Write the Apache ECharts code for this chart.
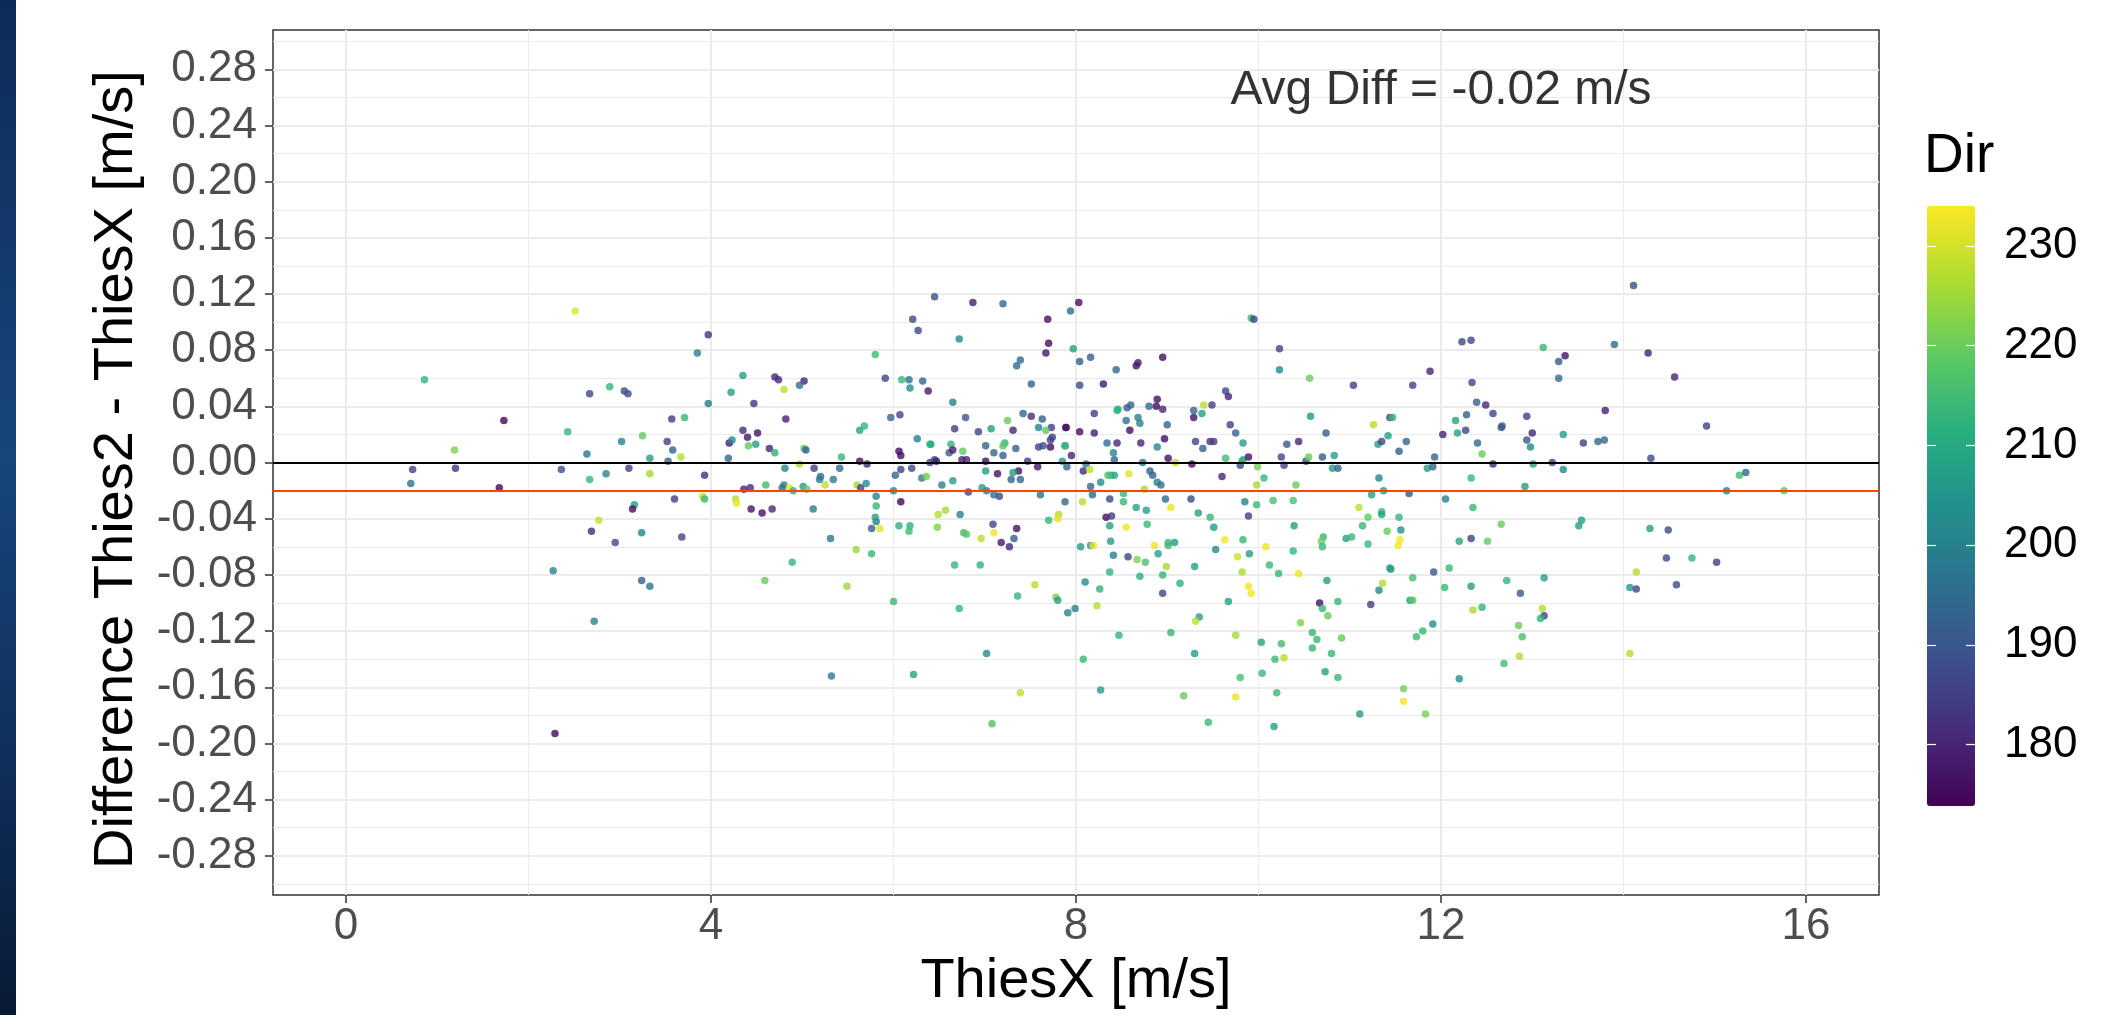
<!DOCTYPE html>
<html>
<head>
<meta charset="utf-8">
<script src="https://cdn.jsdelivr.net/npm/echarts@6/dist/echarts.min.js"></script>
<style>
  html, body { margin: 0; padding: 0; background: #fff; }
  #chart { width: 2105px; height: 1015px; }
</style>
</head>
<body>
<div id="chart"></div>
<script>
// [ThiesX, Thies2 - ThiesX, Dir]
const obs = [
  [0.86,0.059,213],[2.51,0.108,231],[2.67,0.049,186],[2.89,0.054,213],[3.05,0.051,188],[3.09,0.049,188],
  [1.73,0.030,175],[2.43,0.022,214],[3.02,0.015,201],[3.25,0.019,219],[1.19,0.009,222],[2.64,0.006,197],
  [3.33,0.003,207],[0.73,-0.005,186],[1.20,-0.004,183],[2.36,-0.005,188],[3.10,-0.004,185],[2.67,-0.012,214],
  [2.85,-0.008,200],[3.33,-0.008,226],[0.71,-0.015,196],[1.68,-0.018,175],
  [3.16,-0.030,207],[3.14,-0.033,176],[2.77,-0.041,228],[2.69,-0.049,181],[2.95,-0.057,187],[3.24,-0.050,201],
  [2.27,-0.077,201],[3.24,-0.084,192],[3.33,-0.088,197],[2.72,-0.113,201],[2.29,-0.193,175],
  [3.97,0.091,183],[3.85,0.078,200],[4.35,0.062,207],[4.70,0.061,180],[4.74,0.059,181],[5.02,0.058,180],
  [4.97,0.055,196],[4.80,0.052,228],[4.22,0.050,207],[3.97,0.042,199],[4.47,0.042,183],[3.57,0.031,185],
  [3.71,0.032,214],[4.82,0.031,179],[3.52,0.015,185],[3.58,0.009,193],[3.53,0.001,193],[3.67,0.004,227],
  [3.93,-0.009,183],[4.35,0.023,181],[4.51,0.021,177],[4.40,0.018,178],[4.20,0.014,178],[4.23,0.016,202],
  [4.41,0.012,219],[4.49,0.013,207],[4.64,0.010,180],[4.70,0.007,212],[4.19,0.003,194],[5.02,0.010,219],
  [5.04,0.009,192],[5.43,0.004,214],[5.41,-0.004,195],[4.81,-0.004,201],[4.97,-0.001,226],[5.13,-0.004,185],
  [5.20,-0.010,194],[5.19,-0.012,199],[5.34,-0.012,199],[5.25,-0.016,228],[4.60,-0.016,215],[4.80,-0.016,201],
  [4.78,-0.018,197],[4.86,-0.018,232],[4.90,-0.020,213],[5.01,-0.017,207],[5.05,-0.019,219],[4.36,-0.019,180],
  [4.43,-0.018,181],[3.91,-0.024,229],[5.60,-0.016,226],[5.64,-0.018,186],[5.70,-0.015,202],[5.63,0.001,177],
  [5.71,-0.001,180],[5.80,0.077,215],[5.63,0.023,208],[5.68,0.026,213],[5.91,0.060,186],[6.09,0.059,214],
  [6.17,0.059,197],[6.18,0.053,204],[6.32,0.058,193],[6.38,0.051,178],[6.21,0.102,187],[6.27,0.094,187],
  [6.45,0.118,188],[6.87,0.114,179],[7.20,0.113,194],[7.69,0.102,176],[7.70,0.085,176],[7.67,0.078,178],
  [6.72,0.088,203],[7.35,0.069,195],[7.39,0.073,195],[7.51,0.056,193],[6.65,0.043,200],[6.79,0.032,190],
  [5.97,0.032,193],[6.07,0.034,186],[7.25,0.030,220],[7.42,0.035,193],[7.51,0.033,182],[7.63,0.031,192],
  [7.73,0.025,185],[7.89,0.025,176],[7.67,0.023,219],[7.59,0.025,200],[7.74,0.018,185],[7.72,0.016,185],
  [7.59,0.011,186],[7.64,0.012,188],[7.72,0.011,176],[7.88,0.012,207],[7.31,0.023,180],[7.07,0.024,207],
  [6.93,0.022,185],[6.67,0.024,185],[6.26,0.017,199],[6.40,0.013,212],[6.41,0.013,211],[6.63,0.013,213],
  [6.61,0.007,192],[6.65,0.009,179],[6.76,0.008,219],[7.01,0.012,192],[7.10,0.007,193],[7.22,0.014,213],
  [7.20,0.012,218],[7.20,0.005,192],[7.34,0.010,193],[6.06,0.008,176],[6.08,0.005,176],[6.40,0.000,186],
  [6.45,0.002,186],[6.47,0.001,178],[6.75,0.002,180],[6.80,0.002,180],[7.01,0.001,176],[7.47,0.001,185],
  [7.85,0.001,206],[7.90,-0.003,194],[7.58,-0.003,177],[7.14,-0.008,177],[7.37,-0.006,177],[7.01,-0.006,207],
  [7.31,-0.007,207],[7.29,-0.012,193],[7.39,-0.012,193],[6.20,-0.004,187],[6.08,-0.005,186],[6.02,-0.009,194],
  [6.31,-0.011,199],[6.36,-0.010,221],[6.53,-0.016,200],[6.65,-0.013,207],[6.00,-0.020,202],[6.82,-0.021,186],
  [6.97,-0.018,207],[7.02,-0.020,200],[7.10,-0.023,196],[7.16,-0.024,187],[7.61,-0.023,196],[5.81,-0.024,200],
  [3.60,-0.026,185],[3.93,-0.026,214],[4.27,-0.026,227],[4.28,-0.029,232],[4.44,-0.033,177],[4.56,-0.036,176],
  [4.67,-0.033,180],[5.12,-0.033,199],[3.68,-0.053,186],[4.59,-0.084,220],[4.89,-0.071,213],[5.31,-0.054,198],
  [5.32,-0.152,198],[5.49,-0.088,225],[5.59,-0.062,225],[5.76,-0.065,214],[5.76,-0.047,192],[5.81,-0.042,199],
  [5.80,-0.039,208],[5.81,-0.031,214],[5.85,-0.047,232],[6.08,-0.028,175],[6.06,-0.045,212],[6.18,-0.045,212],
  [6.17,-0.049,215],[6.00,-0.099,214],[6.22,-0.151,208],[6.49,-0.037,227],[6.57,-0.034,226],[6.48,-0.046,222],
  [6.73,-0.037,200],[6.77,-0.050,215],[6.80,-0.051,218],[6.96,-0.054,228],[6.67,-0.073,213],[6.95,-0.073,213],
  [6.72,-0.104,213],[7.02,-0.136,202],[7.08,-0.186,217],[7.39,-0.164,228],[7.09,-0.044,187],[7.10,-0.050,233],
  [7.18,-0.057,178],[7.27,-0.060,180],[7.32,-0.054,192],[7.35,-0.047,176],[7.88,-0.028,194],[7.70,-0.041,214],
  [7.81,-0.037,227],[7.80,-0.040,232],[7.36,-0.095,213],[7.55,-0.087,227],[7.78,-0.096,222],[7.80,-0.098,207],
  [7.91,-0.107,200],
  [7.94,0.108,196],[8.03,0.114,176],[7.97,0.081,207],[8.04,0.072,191],[8.16,0.075,192],[8.04,0.055,187],
  [8.30,0.056,178],[8.44,0.066,194],[8.66,0.069,177],[8.68,0.071,178],[8.95,0.075,176],[7.89,0.025,177],
  [7.88,0.012,214],[7.95,0.005,180],[8.04,0.022,176],[8.20,0.035,184],[8.20,0.021,179],[8.11,-0.001,196],
  [8.08,-0.006,181],[8.15,-0.005,228],[8.34,0.014,196],[8.45,0.014,180],[8.41,0.007,201],[8.42,0.002,193],
  [8.45,0.037,214],[8.46,0.038,212],[8.56,0.039,192],[8.60,0.041,193],[8.55,0.030,196],[8.68,0.032,200],
  [8.70,0.028,200],[8.59,0.023,176],[8.71,0.014,180],[8.73,0.000,196],[8.80,0.040,195],[8.88,0.040,176],
  [8.89,0.045,176],[8.95,0.038,180],[9.00,0.027,193],[8.97,0.017,176],[8.89,0.011,202],[9.01,0.003,176],
  [9.09,0.000,228],[8.81,-0.006,192],[8.84,-0.009,192],[8.89,-0.014,200],[8.93,-0.016,196],[8.38,-0.009,214],
  [8.42,-0.009,209],[8.35,-0.009,217],[8.58,-0.008,231],[8.27,-0.014,203],[8.16,-0.017,193],[8.18,-0.023,194],
  [8.52,-0.022,214],[8.75,-0.019,226],[9.27,-0.001,176],[9.29,0.032,177],[9.29,0.037,193],[9.38,0.035,208],
  [9.40,0.041,228],[9.49,0.041,185],[9.31,0.015,186],[9.47,0.015,182],[9.51,0.015,185],[9.39,0.010,193],
  [9.64,0.051,186],[9.67,0.047,180],[9.69,0.027,186],[9.75,0.021,193],[9.83,0.014,207],[9.60,-0.010,180],
  [9.64,0.003,215],[9.80,-0.002,186],[9.82,0.001,207],[9.83,0.002,212],[9.89,0.004,177],[9.92,0.103,214],
  [9.95,0.102,186],[9.99,-0.003,221],[10.06,-0.011,214],[9.98,-0.016,226],[10.41,-0.016,220],[10.23,0.081,186],
  [10.23,0.066,202],[10.56,0.060,220],[10.57,0.033,206],[10.25,0.004,187],[10.28,-0.002,186],[10.31,0.013,190],
  [10.44,0.015,180],[10.52,0.001,187],[10.55,0.004,220],[10.70,0.004,192],[10.74,0.021,192],[10.83,0.005,207],
  [10.81,-0.004,207],[10.87,-0.004,193],[11.04,0.055,186],[11.26,0.027,227],[11.31,0.013,207],[11.35,0.015,186],
  [11.42,0.019,207],[11.44,0.032,186],[11.47,0.032,214],[11.54,0.008,192],[11.62,0.015,193],[11.69,0.055,186],
  [11.88,0.065,180],[11.93,0.004,194],[11.85,-0.004,207],[11.91,-0.003,193],[12.02,0.020,180],[12.16,0.030,208],
  [12.18,0.021,208],[12.28,0.034,192],[12.27,0.023,186],[12.23,0.086,187],[12.33,0.087,187],[12.34,0.057,187],
  [12.39,0.043,192],[12.40,0.014,194],[12.33,-0.011,214],[11.32,-0.011,200],[11.37,-0.020,207],[11.24,-0.023,207],
  [11.65,-0.022,190],
  [8.07,-0.028,227],[8.37,-0.026,186],[8.52,-0.028,214],[8.66,-0.032,208],[8.77,-0.034,208],[8.98,-0.026,194],
  [9.04,-0.032,232],[9.26,-0.026,187],[8.33,-0.039,176],[8.39,-0.038,185],[8.37,-0.045,208],[8.55,-0.046,233],
  [8.78,-0.044,214],[8.05,-0.060,207],[8.16,-0.059,207],[8.19,-0.059,232],[8.38,-0.056,207],[8.41,-0.066,200],
  [8.57,-0.067,186],[8.67,-0.069,222],[8.76,-0.071,216],[8.37,-0.078,213],[8.70,-0.081,212],[8.86,-0.059,232],
  [8.90,-0.065,207],[8.99,-0.074,226],[8.95,-0.080,213],[9.01,-0.057,215],[9.01,-0.059,215],[9.08,-0.057,207],
  [8.95,-0.093,187],[9.14,-0.086,212],[9.30,-0.074,207],[9.34,-0.036,207],[9.47,-0.039,214],[9.51,-0.046,206],
  [9.53,-0.062,202],[9.63,-0.055,233],[9.83,-0.055,214],[9.85,-0.028,200],[9.89,-0.038,186],[9.98,-0.030,214],
  [10.16,-0.027,216],[10.38,-0.027,216],[9.77,-0.067,229],[9.90,-0.065,207],[9.82,-0.078,226],[9.89,-0.088,233],
  [9.92,-0.093,233],[9.67,-0.099,207],[10.08,-0.060,233],[10.12,-0.073,214],[10.22,-0.079,213],[10.39,-0.045,207],
  [10.38,-0.063,213],[10.44,-0.079,232],[10.03,-0.128,207],[10.25,-0.129,215],[10.18,-0.140,214],[10.28,-0.139,227],
  [10.04,-0.150,214],[10.20,-0.164,214],[10.17,-0.188,207],[9.75,-0.123,226],[9.80,-0.153,216],[9.75,-0.167,232],
  [9.45,-0.185,214],[9.18,-0.166,220],[9.30,-0.136,207],[9.35,-0.110,207],[9.31,-0.113,228],[9.04,-0.121,214],
  [8.47,-0.123,213],[8.08,-0.140,214],[8.27,-0.162,207],[8.23,-0.102,227],[8.10,-0.085,203],[8.26,-0.090,213],
  [7.99,-0.104,200],[11.10,-0.032,228],[11.20,-0.039,219],[11.35,-0.035,214],[11.35,-0.037,208],[11.54,-0.039,213],
  [11.14,-0.045,214],[11.41,-0.049,220],[11.56,-0.048,204],[11.20,-0.058,214],[10.96,-0.054,208],[11.02,-0.053,214],
  [10.71,-0.053,214],[10.69,-0.056,220],[10.70,-0.060,214],[11.55,-0.055,233],[11.53,-0.059,233],[12.05,-0.026,200],
  [12.35,-0.032,214],[12.20,-0.056,208],[12.33,-0.054,186],[11.44,-0.075,207],[11.45,-0.076,207],[11.92,-0.078,190],
  [12.09,-0.075,214],[11.69,-0.082,215],[11.36,-0.086,227],[11.32,-0.091,202],[10.75,-0.084,207],[10.87,-0.099,214],
  [10.67,-0.100,177],[10.70,-0.104,214],[10.76,-0.109,220],[11.23,-0.101,186],[11.66,-0.098,207],[11.69,-0.098,218],
  [12.04,-0.089,214],[12.33,-0.088,207],[12.35,-0.105,226],[10.46,-0.114,222],[10.59,-0.121,214],[10.64,-0.126,214],
  [10.59,-0.132,214],[10.80,-0.136,214],[10.91,-0.125,220],[10.73,-0.149,207],[10.87,-0.153,214],[11.11,-0.179,207],
  [11.59,-0.161,221],[11.59,-0.170,233],[11.83,-0.179,221],[11.73,-0.124,214],[11.80,-0.120,214],[11.91,-0.115,203],
  [12.20,-0.154,204],
  [14.11,0.126,188],[13.90,0.084,195],[14.27,0.078,179],[14.56,0.061,180],[13.12,0.082,214],[13.36,0.076,177],
  [13.29,0.072,191],[13.29,0.060,195],[12.49,0.041,181],[12.57,0.035,187],[12.66,0.025,190],[12.67,0.026,190],
  [12.94,0.033,185],[13.00,0.021,180],[12.94,0.016,190],[12.98,0.011,202],[12.45,0.006,220],[12.57,-0.001,180],
  [13.01,-0.001,207],[13.22,0.000,186],[13.34,-0.005,203],[13.34,0.020,207],[13.56,0.014,185],[13.72,0.015,194],
  [13.79,0.016,194],[13.80,0.037,179],[14.30,0.003,187],[14.91,0.026,186],[12.92,-0.017,207],[15.27,-0.009,215],
  [15.34,-0.007,194],[15.13,-0.020,200],[15.76,-0.020,219],
  [12.66,-0.044,220],[12.51,-0.056,219],[13.54,-0.041,207],[13.51,-0.045,207],[14.29,-0.047,208],[14.49,-0.048,187],
  [14.47,-0.068,187],[14.75,-0.068,213],[15.02,-0.071,185],[14.14,-0.078,227],[14.07,-0.089,207],[14.14,-0.090,187],
  [14.58,-0.087,187],[12.72,-0.084,213],[13.13,-0.082,207],[12.87,-0.093,190],[12.45,-0.103,213],[13.11,-0.104,227],
  [13.13,-0.109,186],[13.09,-0.111,213],[12.85,-0.116,220],[12.89,-0.124,216],[12.86,-0.138,227],[12.69,-0.143,215],
  [14.07,-0.136,227]
];

const avgDiff = -0.02;
const xTicks = [0, 4, 8, 12, 16];
const xMinor = [2, 6, 10, 14];
const yTicks = [-0.28, -0.24, -0.20, -0.16, -0.12, -0.08, -0.04, 0, 0.04, 0.08, 0.12, 0.16, 0.20, 0.24, 0.28];
const yMinor = [-0.30, -0.26, -0.22, -0.18, -0.14, -0.10, -0.06, -0.02, 0.02, 0.06, 0.10, 0.14, 0.18, 0.22, 0.26, 0.30];
const dirTicks = [180, 190, 200, 210, 220, 230];
const dirRange = [173.85, 234.0];
const viridis = ['#440154', '#472D7B', '#3B528B', '#2C728E', '#21918C', '#28AE80', '#5EC962', '#ADDC30', '#FDE725'];

const FONT = "'Liberation Sans', Arial, sans-serif";
const chart = echarts.init(document.getElementById('chart'), null, { renderer: 'canvas' });

const hidden = { show: false };
const noLine = { show: false, onZero: false };

const option = {
  backgroundColor: '#ffffff',
  animation: false,
  textStyle: { fontFamily: FONT },
  title: {
    text: 'Dir',
    left: 1924,
    top: 129,
    padding: 0,
    textStyle: { fontSize: 55, fontWeight: 'normal', color: '#000', fontFamily: FONT }
  },
  graphic: [
    {
      type: 'rect',
      shape: { x: 0, y: 0, width: 16, height: 1015 },
      style: {
        fill: new echarts.graphic.LinearGradient(0, 0, 0, 1, [
          { offset: 0, color: '#0d2b57' },
          { offset: 0.45, color: '#17467c' },
          { offset: 0.75, color: '#0f2f5a' },
          { offset: 1, color: '#081a35' }
        ])
      },
      silent: true
    }
  ],
  grid: [
    { left: 273, top: 30, width: 1606, height: 869, show: true, backgroundColor: '#fff',
      borderColor: '#333333', borderWidth: 1.5 },
    { left: 1927, top: 206, width: 48, height: 600, show: false }
  ],
  xAxis: [
    {
      type: 'value', gridIndex: 0, min: -0.8, max: 16.8, position: 'bottom',
      name: 'ThiesX [m/s]', nameLocation: 'middle', nameGap: 57,
      nameTextStyle: { fontSize: 56, color: '#000', fontFamily: FONT },
      axisLine: noLine,
      axisTick: { show: true, length: 8, customValues: xTicks, lineStyle: { color: '#333', width: 1.5 } },
      axisLabel: { customValues: xTicks, fontSize: 44, color: '#4D4D4D', margin: 10, fontFamily: FONT },
      splitLine: { show: true, lineStyle: { color: '#EBEBEB', width: 2 } }
    },
    {
      type: 'value', gridIndex: 0, min: -0.8, max: 16.8, position: 'top',
      axisLine: noLine,
      axisTick: { show: false, customValues: xMinor },
      axisLabel: { show: false, customValues: xMinor },
      splitLine: { show: true, lineStyle: { color: '#EBEBEB', width: 1 } }
    },
    { type: 'value', gridIndex: 1, min: 0, max: 1, show: false }
  ],
  yAxis: [
    {
      type: 'value', gridIndex: 0, min: -0.308, max: 0.308, position: 'left',
      name: 'Difference Thies2 - ThiesX [m/s]', nameLocation: 'middle', nameRotate: 90, nameGap: 128,
      nameTextStyle: { fontSize: 56, color: '#000', fontFamily: FONT, padding: [0, 14, 0, 0] },
      axisLine: noLine,
      axisTick: { show: true, length: 8, customValues: yTicks, lineStyle: { color: '#333', width: 1.5 } },
      axisLabel: {
        customValues: yTicks, fontSize: 44, color: '#4D4D4D', margin: 16, fontFamily: FONT,
        formatter: (v) => v.toFixed(2)
      },
      splitLine: { show: true, lineStyle: { color: '#EBEBEB', width: 2 } }
    },
    {
      type: 'value', gridIndex: 0, min: -0.308, max: 0.308, position: 'right',
      axisLine: noLine,
      axisTick: { show: false, customValues: yMinor },
      axisLabel: { show: false, customValues: yMinor },
      splitLine: { show: true, lineStyle: { color: '#EBEBEB', width: 1 } }
    },
    {
      // colour bar labels
      type: 'value', gridIndex: 1, min: dirRange[0], max: dirRange[1], position: 'right', z: 10,
      axisLine: noLine,
      axisTick: { show: true, inside: true, length: 9, customValues: dirTicks, lineStyle: { color: '#fff', width: 1.2 } },
      axisLabel: { customValues: dirTicks, fontSize: 44, color: '#000', margin: 29, fontFamily: FONT },
      splitLine: hidden
    },
    {
      type: 'value', gridIndex: 1, min: dirRange[0], max: dirRange[1], position: 'left', z: 10,
      axisLine: noLine,
      axisTick: { show: true, inside: true, length: 9, customValues: dirTicks, lineStyle: { color: '#fff', width: 1.2 } },
      axisLabel: { show: false, customValues: dirTicks },
      splitLine: hidden
    }
  ],
  visualMap: {
    type: 'continuous',
    min: dirRange[0],
    max: dirRange[1],
    dimension: 2,
    seriesIndex: 0,
    orient: 'vertical',
    left: 1927,
    top: 206,
    padding: 0,
    itemWidth: 48,
    itemHeight: 600,
    calculable: false,
    hoverLink: false,
    text: null,
    showLabel: false,
    inRange: { color: viridis }
  },
  series: [
    {
      type: 'scatter',
      xAxisIndex: 0, yAxisIndex: 0,
      data: obs,
      symbolSize: 7.5,
      z: 2,
      silent: true
    },
    {
      type: 'line',
      xAxisIndex: 0, yAxisIndex: 0,
      data: [],
      z: 5,
      markLine: {
        silent: true,
        symbol: ['none', 'none'],
        label: { show: false },
        data: [
          { yAxis: 0, lineStyle: { color: '#000', width: 2, type: 'solid' } },
          { yAxis: avgDiff, lineStyle: { color: '#FF4500', width: 2.2, type: 'solid' } }
        ]
      }
    },
    {
      type: 'scatter',
      xAxisIndex: 0, yAxisIndex: 0,
      data: [[12, 0.265]],
      symbolSize: 1,
      itemStyle: { color: 'rgba(0,0,0,0)' },
      silent: true,
      z: 6,
      label: {
        show: true,
        position: 'inside',
        formatter: 'Avg Diff = ' + avgDiff.toFixed(2) + ' m/s',
        fontSize: 48,
        color: '#000',
        fontFamily: FONT
      }
    }
  ]
};

chart.setOption(option);
</script>
</body>
</html>
